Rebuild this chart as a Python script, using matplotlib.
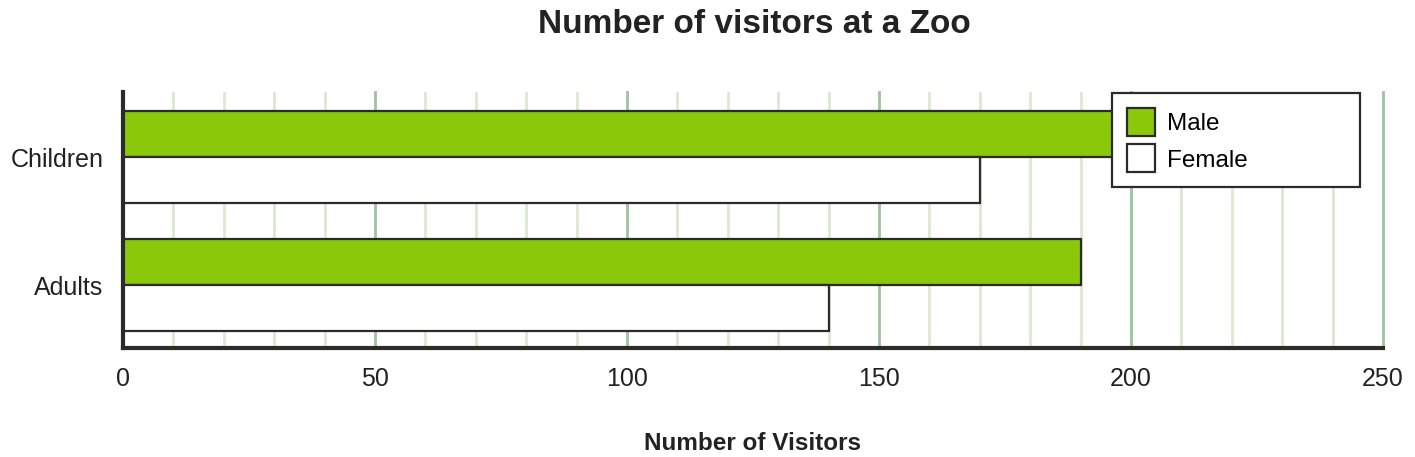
import matplotlib.pyplot as plt
import numpy as np
from matplotlib.patches import Patch

plt.rcParams['font.family'] = ['Liberation Sans', 'DejaVu Sans']

categories = ["Adults", "Children"]
male = [190, 200]
female = [140, 170]
series_names = ["Male", "Female"]

green = "#8bc80a"
edge = "#2b2b2b"
W, H = 1415, 457

fig = plt.figure(figsize=(W / 100, H / 100), dpi=100)
ax = fig.add_axes([123 / W, 109 / H, 1260 / W, 256 / H])

y = np.arange(len(categories))
h = 0.36
ax.barh(y + h / 2, male, height=h, color=green, edgecolor=edge, linewidth=1.6, zorder=3)
ax.barh(y - h / 2, female, height=h, color="white", edgecolor=edge, linewidth=1.6, zorder=3)

ax.set_xlim(0, 250)
ax.set_ylim(-0.49, 1.51)
ax.set_xticks(np.arange(0, 251, 50))
ax.set_xticks(np.arange(0, 251, 10), minor=True)
ax.set_yticks(y)
ax.set_yticklabels(categories)

ax.grid(axis="x", which="major", color="#9fc29f", linewidth=2, zorder=0)
ax.grid(axis="x", which="minor", color="#dbe9d3", linewidth=2, zorder=0)
for line in ax.get_xgridlines():
    line.set_clip_on(False)
ax.tick_params(axis="both", which="both", length=0, labelsize=18, colors="#222222")
ax.tick_params(axis="x", pad=14)
ax.tick_params(axis="y", pad=14)

for s in ["top", "right"]:
    ax.spines[s].set_visible(False)
for s in ["left", "bottom"]:
    ax.spines[s].set_linewidth(3)
    ax.spines[s].set_color(edge)
    ax.spines[s].set_zorder(4)

ax.set_xlabel("Number of Visitors", fontsize=17.5, fontweight="bold", color="#222222", labelpad=29)
fig.text(754 / W, 1 - 33 / H, "Number of visitors at a Zoo", fontsize=24, fontweight="bold",
         color="#222222", ha="center", va="baseline")

handles = [Patch(facecolor=green, edgecolor=edge, linewidth=1.6),
           Patch(facecolor="white", edgecolor=edge, linewidth=1.6)]
leg = fig.legend(handles, series_names, loc="upper left",
                 bbox_to_anchor=(1112 / W, 1 - 185 / H, 248 / W, 92 / H), mode="expand",
                 fontsize=17.5, frameon=True, fancybox=False, framealpha=1,
                 handlelength=1.15, handleheight=1.39, borderpad=0.62, labelspacing=0.35,
                 handletextpad=0.5, borderaxespad=0)
leg.get_frame().set_edgecolor(edge)
leg.get_frame().set_linewidth(1.6)
leg.set_zorder(5)

fig.savefig("out.png", dpi=100)
